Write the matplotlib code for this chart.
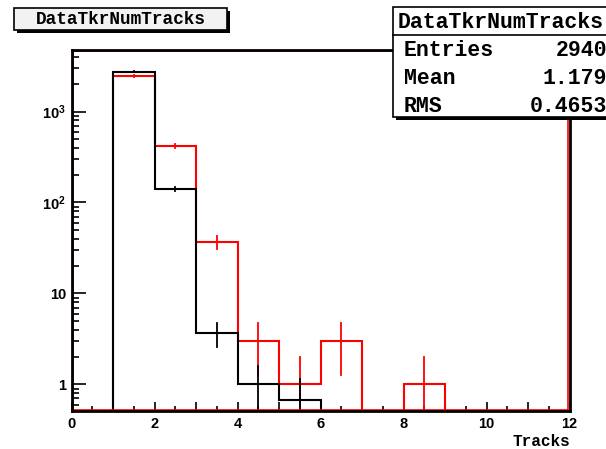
import matplotlib
matplotlib.use("Agg")
import matplotlib.pyplot as plt
from matplotlib.patches import Rectangle
from matplotlib.ticker import FixedLocator, FixedFormatter, MultipleLocator, NullFormatter
import numpy as np

plt.rcParams["mathtext.fontset"] = "custom"
plt.rcParams["mathtext.rm"] = "Liberation Sans:bold"
plt.rcParams["mathtext.bf"] = "Liberation Sans:bold"
plt.rcParams["mathtext.it"] = "Liberation Sans:bold"
plt.rcParams["mathtext.default"] = "bf"

# bin edges 0..12, one bin per track count
edges = np.arange(0, 13)

# red: data histogram (counts per bin)
red_vals = [0, 2468, 420, 37, 3, 1, 3, 0, 1, 0, 0, 0]
red_errs = [0, 49.7, 20.5, 6.1, 1.73, 1.0, 1.73, 0, 1.0, 0, 0, 0]

# black: reference histogram (scaled), bins 1..5 only
blk_edges = [1, 2, 3, 4, 5, 6]
blk_vals = [2750, 140.7, 3.67, 1.0, 0.667]
blk_errs = [30.3, 6.85, 1.11, 0.58, 0.47]

stats_title = "DataTkrNumTracks"
stats_rows = [("Entries", "2940"), ("Mean", "1.179"), ("RMS", "0.4653")]

W, H = 606, 449
fig = plt.figure(figsize=(W / 100, H / 100), dpi=100)

def fx(x):
    return x / W

def fy(y):
    return 1 - y / H

L, R, T, B = 71.5, 569.5, 50, 411
ax = fig.add_axes([fx(L), fy(B), fx(R) - fx(L), fy(T) - fy(B)])
ax.set_yscale("log")
ax.set_xlim(0, 12)
ax.set_ylim(0.51, 4750)

tiny = 1e-3
rv = [v if v > 0 else tiny for v in red_vals]
ax.stairs(rv, edges, color="red", lw=1.5, baseline=None, zorder=2)
centers = edges[:-1] + 0.5
for c, v, e in zip(centers, red_vals, red_errs):
    if v > 0:
        lo = v - e if v - e > 0 else tiny
        ax.plot([c, c], [lo, v + e], color="red", lw=1.3, zorder=2)

ax.stairs(blk_vals, blk_edges, color="black", lw=1.5, baseline=tiny, zorder=3)
bc = np.array(blk_edges[:-1]) + 0.5
for c, v, e in zip(bc, blk_vals, blk_errs):
    lo = v - e if v - e > 0 else tiny
    ax.plot([c, c], [lo, v + e], color="black", lw=1.3, zorder=3)

# red inner frame just inside the black one
ax.add_patch(Rectangle((0.003, 0.004), 0.994, 0.992, transform=ax.transAxes,
                       fill=False, ec="red", lw=1.2, zorder=4, clip_on=False))
for s in ax.spines.values():
    s.set_linewidth(2)
    s.set_zorder(5)

# ticks, ROOT style (inside)
xt = np.arange(0, 13)
ax.set_xticks(xt)
ax.set_xticklabels([str(t) if t % 2 == 0 else "" for t in xt])
ax.xaxis.set_minor_locator(MultipleLocator(0.5))
ax.tick_params(axis="x", which="major", direction="in", length=6.5, width=1.2,
               top=False, pad=4)
ax.tick_params(axis="x", which="minor", direction="in", length=3.6, width=1.2, top=False)

ax.yaxis.set_major_locator(FixedLocator([1, 10, 100, 1000]))
ax.yaxis.set_major_formatter(FixedFormatter(["1", "10", r"$10^{2}$", r"$10^{3}$"]))
minors = [m * 10.0 ** d for d in range(-1, 4) for m in range(2, 10)]
ax.yaxis.set_minor_locator(FixedLocator(minors))
ax.yaxis.set_minor_formatter(NullFormatter())
ax.tick_params(axis="y", which="major", direction="in", length=10, width=1.2,
               right=False, pad=4)
ax.tick_params(axis="y", which="minor", direction="in", length=5, width=1.2, right=False)

for lab in ax.get_xticklabels() + ax.get_yticklabels():
    lab.set_fontfamily("Liberation Sans")
    lab.set_fontweight("bold")
    lab.set_fontsize(10.5)

fig.text(fx(570), fy(442), "Tracks", ha="right", va="center",
         family="Liberation Mono", weight="bold", fontsize=11.5)

# title box
def box(x0, y0, x1, y1, fc, shadow=3):
    fig.patches.append(Rectangle((fx(x0 + shadow), fy(y1 + shadow)),
                                 fx(x1) - fx(x0), fy(y0) - fy(y1),
                                 transform=fig.transFigure, fc="black", ec="black",
                                 lw=0, zorder=8))
    fig.patches.append(Rectangle((fx(x0), fy(y1)), fx(x1) - fx(x0), fy(y0) - fy(y1),
                                 transform=fig.transFigure, fc=fc, ec="black",
                                 lw=1.2, zorder=9))

box(14, 8, 227, 30, "#f2f2f2")
fig.text(fx(121), fy(19.5), "DataTkrNumTracks", ha="center", va="center",
         family="Liberation Mono", weight="bold", fontsize=12.8, zorder=10)

# stats box
box(393, 7, 650, 117, "white")
fig.add_artist(plt.Line2D([fx(393), fx(650)], [fy(35), fy(35)],
                          transform=fig.transFigure, color="black", lw=1.2, zorder=10))
fig.text(fx(398), fy(22), stats_title, ha="left", va="center",
         family="Liberation Mono", weight="bold", fontsize=15.5, zorder=10)
for i, (k, v) in enumerate(stats_rows):
    yy = 51 + i * 27.7
    fig.text(fx(404), fy(yy), k, ha="left", va="center",
             family="Liberation Mono", weight="bold", fontsize=15.5, zorder=10)
    fig.text(fx(607), fy(yy), v, ha="right", va="center",
             family="Liberation Mono", weight="bold", fontsize=15.5, zorder=10)

fig.savefig("out.png", dpi=100)
